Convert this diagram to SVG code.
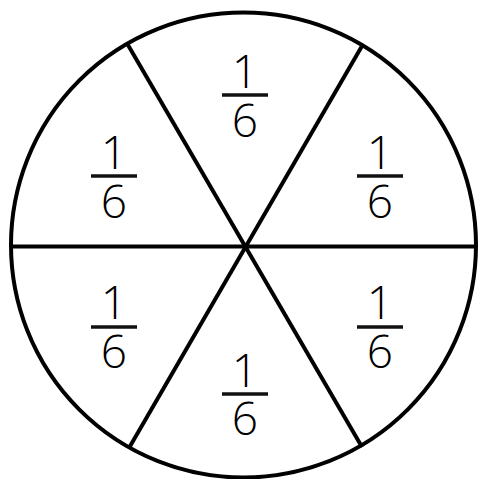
<svg xmlns="http://www.w3.org/2000/svg" width="479" height="479" viewBox="0 0 479 479">
<style>
.ln{stroke:#000;stroke-width:4;fill:none}
.bar{stroke:#111;stroke-width:3.5}
.d{font-family:"Open Sans","Liberation Sans",Arial,sans-serif;font-weight:300;font-size:46px;fill:#000;text-anchor:middle}
</style>
<rect width="479" height="479" fill="#fff"/>
<g id="connectors">
<circle class="ln" cx="243.5" cy="245" r="232.5"/>
<line class="ln" x1="11" y1="246.5" x2="476" y2="246.5"/>
<line class="ln" x1="128" y1="45" x2="362" y2="447"/>
<line class="ln" x1="362" y1="46" x2="129" y2="448"/>
</g>
<g id="f-top"><text class="d" x="245" y="88">1</text><line class="bar" x1="222" y1="95" x2="268" y2="95"/><text class="d" x="245" y="137">6</text></g>
<g id="f-ul"><text class="d" x="114" y="169">1</text><line class="bar" x1="91" y1="176" x2="137" y2="176"/><text class="d" x="114" y="218">6</text></g>
<g id="f-ur"><text class="d" x="380" y="169">1</text><line class="bar" x1="357" y1="176" x2="403" y2="176"/><text class="d" x="380" y="218">6</text></g>
<g id="f-ll"><text class="d" x="114" y="319">1</text><line class="bar" x1="91" y1="327" x2="137" y2="327"/><text class="d" x="114" y="368">6</text></g>
<g id="f-lr"><text class="d" x="380" y="319">1</text><line class="bar" x1="357" y1="327" x2="403" y2="327"/><text class="d" x="380" y="368">6</text></g>
<g id="f-bot"><text class="d" x="245" y="387">1</text><line class="bar" x1="222" y1="394" x2="268" y2="394"/><text class="d" x="245" y="435">6</text></g>
</svg>
